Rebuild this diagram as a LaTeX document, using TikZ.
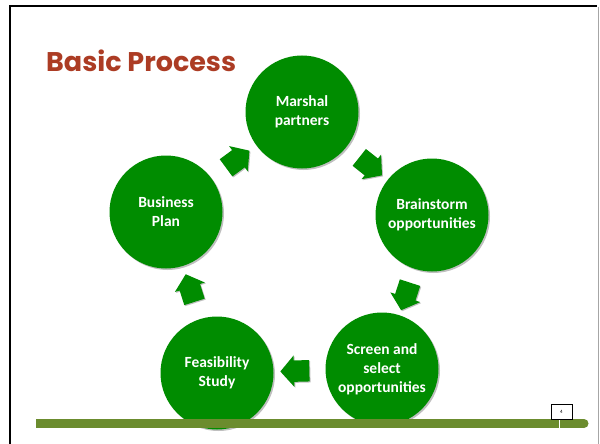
\documentclass[tikz,border=0pt]{standalone}
\usepackage{fontspec}
\setmainfont{Carlito}
\newfontfamily\titlefont{Poppins}
\usetikzlibrary{shapes.arrows,shadows}
\definecolor{cgreen}{RGB}{0,140,0}
\definecolor{titlered}{RGB}{172,60,36}
\definecolor{barolive}{RGB}{107,140,46}
\begin{document}
\begin{tikzpicture}[x=1pt,y=-1pt,
  stage/.style={circle,fill=cgreen,minimum size=113pt,inner sep=0pt,text=white,
    font=\fontsize{15.5}{19}\selectfont\bfseries,align=center,
    drop shadow={shadow xshift=1.5pt,shadow yshift=-1.5pt,opacity=0.25,fill=black}},
  flowarrow/.style={single arrow,fill=cgreen,inner xsep=0pt,inner ysep=10.5pt,
    single arrow head extend=5pt,single arrow tip angle=98,minimum height=29pt,
    sloped,allow upside down,
    drop shadow={shadow xshift=1pt,shadow yshift=-1pt,opacity=0.25,fill=black}}]
\useasboundingbox (0,0) rectangle (600,444);
\fill[white] (0,0) rectangle (600,444);
% frame
\draw[line width=2.5pt] (10,444) -- (10,6) -- (597,6);
\draw[black!35,line width=1pt] (598.5,7) -- (598.5,444);
% title
\node[anchor=base west,text=titlered,inner sep=0pt,
  font=\titlefont\bfseries\fontsize{27}{32}\selectfont] (title) at (46,72) {Basic Process};
% stages
\node[stage] (mp) at (302,112) {Marshal\\partners};
\node[stage] (bs) at (432,215) {Brainstorm\\opportunities};
\node[stage] (ss) at (382,369) {Screen and\\select\\opportunities};
\node[stage] (fs) at (217,373) {Feasibility\\Study};
\node[stage] (bp) at (166,212) {Business\\Plan};
% arrows
\path (bp) -- node[flowarrow] (a1) {} (mp);
\path (mp) -- node[flowarrow] (a2) {} (bs);
\path (bs) -- node[flowarrow] (a3) {} (ss);
\path (ss) -- node[flowarrow] (a4) {} (fs);
\path (fs) -- node[flowarrow] (a5) {} (bp);
% bottom bar
\fill[barolive] (36,419) rectangle (584,428);
\fill[barolive] (584,423.5) circle (4.5pt);
\draw[white,line width=0.8pt] (559,419) -- (559,428);
\node[draw=black,fill=white,line width=0.8pt,minimum width=21pt,minimum height=15pt,
  inner sep=0pt,font=\fontsize{5}{6}\selectfont] (pg) at (561.5,411.5) {4};
\end{tikzpicture}
\end{document}
